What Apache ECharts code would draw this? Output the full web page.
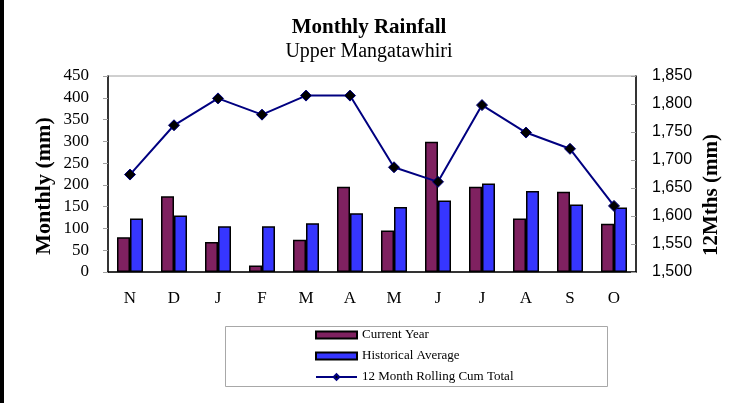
<!DOCTYPE html>
<html>
<head>
<meta charset="utf-8">
<script src="https://cdn.jsdelivr.net/npm/echarts@6/dist/echarts.min.js"></script>
<style>
  html, body { margin: 0; padding: 0; background: #fff; }
  #chart { width: 738px; height: 403px; }
</style>
</head>
<body>
<div id="chart"></div>
<script>
const months = ['N', 'D', 'J', 'F', 'M', 'A', 'M', 'J', 'J', 'A', 'S', 'O'];
const currentYear = [80, 174, 69, 15, 74, 196, 95, 299, 196, 123, 184, 111];
const historicalAvg = [123, 130, 105, 105, 112, 135, 149, 164, 203, 186, 155, 148];
const rollingTotal = [1674, 1762, 1810, 1781, 1815, 1815, 1687, 1661, 1798, 1749, 1720, 1618];

const serif = "'Liberation Serif', 'Times New Roman', serif";
const sans = "'Liberation Sans', Arial, sans-serif";

const chart = echarts.init(document.getElementById('chart'));

// 旋转的轴标题（位置与原图对齐）
const axisTitle = (text, x, y, size) => ({
  type: 'text',
  x: x,
  y: y,
  rotation: Math.PI / 2,
  style: {
    text: text,
    font: 'bold ' + size + 'px ' + serif,
    fill: '#000',
    align: 'center',
    verticalAlign: 'middle',
    textAlign: 'center',
    textVerticalAlign: 'middle'
  }
});

chart.setOption({
  animation: false,
  backgroundColor: '#fff',
  title: [
    {
      text: 'Monthly Rainfall',
      left: 'center',
      top: 12,
      textStyle: { fontFamily: serif, fontSize: 21, fontWeight: 'bold', color: '#000' }
    },
    {
      text: 'Upper Mangatawhiri',
      left: 'center',
      top: 37,
      textStyle: { fontFamily: serif, fontSize: 20, fontWeight: 'normal', color: '#000' }
    }
  ],
  graphic: [
    // 左侧黑边
    { type: 'rect', left: 0, top: 0, shape: { width: 4, height: 403 }, style: { fill: '#000' } },
    // 图例外框
    {
      type: 'rect', left: 223, top: 324,
      shape: { width: 382, height: 60 },
      style: { fill: 'none', stroke: '#a8a8a8', lineWidth: 1 }
    },
    axisTitle('Monthly (mm)', 44, 186, 22),
    axisTitle('12Mths (mm)', 712, 195, 21)
  ],
  legend: {
    orient: 'vertical',
    left: 315,
    top: 328,
    itemWidth: 41,
    itemHeight: 7,
    itemGap: 7,
    padding: 0,
    textStyle: { fontFamily: serif, fontSize: 13, lineHeight: 14, color: '#000' },
    data: [
      { name: 'Current Year', icon: 'rect' },
      { name: 'Historical Average', icon: 'rect' },
      { name: '12 Month Rolling Cum Total' }
    ]
  },
  grid: {
    left: 108,
    right: 102,
    top: 76,
    bottom: 131,
    show: true,
    borderColor: '#a0a0a0',
    borderWidth: 1
  },
  xAxis: {
    type: 'category',
    data: months,
    axisLine: { lineStyle: { color: '#000', width: 1.5 } },
    axisTick: { length: 6, lineStyle: { color: '#a0a0a0' } },
    axisLabel: { fontFamily: serif, fontSize: 17, color: '#000', margin: 18 }
  },
  yAxis: [
    {
      type: 'value',
      min: 0,
      max: 450,
      interval: 50,
      axisLine: { show: true, lineStyle: { color: '#000', width: 1.5 } },
      axisTick: { show: true, length: 5, lineStyle: { color: '#a0a0a0' } },
      axisLabel: { fontFamily: serif, fontSize: 17, color: '#000', margin: 19 },
      splitLine: { show: false }
    },
    {
      type: 'value',
      min: 1500,
      max: 1850,
      interval: 50,
      axisLine: { show: true, lineStyle: { color: '#000', width: 1.5 } },
      axisTick: { show: true, inside: true, length: 5, lineStyle: { color: '#a0a0a0' } },
      axisLabel: {
        fontFamily: sans,
        fontSize: 16,
        color: '#000',
        margin: 16,
        formatter: v => v.toLocaleString('en-US')
      },
      splitLine: { show: false }
    }
  ],
  series: [
    {
      name: 'Current Year',
      type: 'bar',
      data: currentYear,
      barWidth: 13,
      barGap: '0%',
      itemStyle: { color: '#7f2160', borderColor: '#000', borderWidth: 1.5 }
    },
    {
      name: 'Historical Average',
      type: 'bar',
      data: historicalAvg,
      barWidth: 13,
      barGap: '0%',
      itemStyle: { color: '#3636ff', borderColor: '#000', borderWidth: 1.5 }
    },
    {
      name: '12 Month Rolling Cum Total',
      type: 'line',
      yAxisIndex: 1,
      data: rollingTotal,
      symbol: 'diamond',
      symbolSize: 11,
      lineStyle: { color: '#000080', width: 2 },
      itemStyle: { color: '#000', borderColor: '#000080', borderWidth: 1 }
    }
  ]
});
</script>
</body>
</html>
